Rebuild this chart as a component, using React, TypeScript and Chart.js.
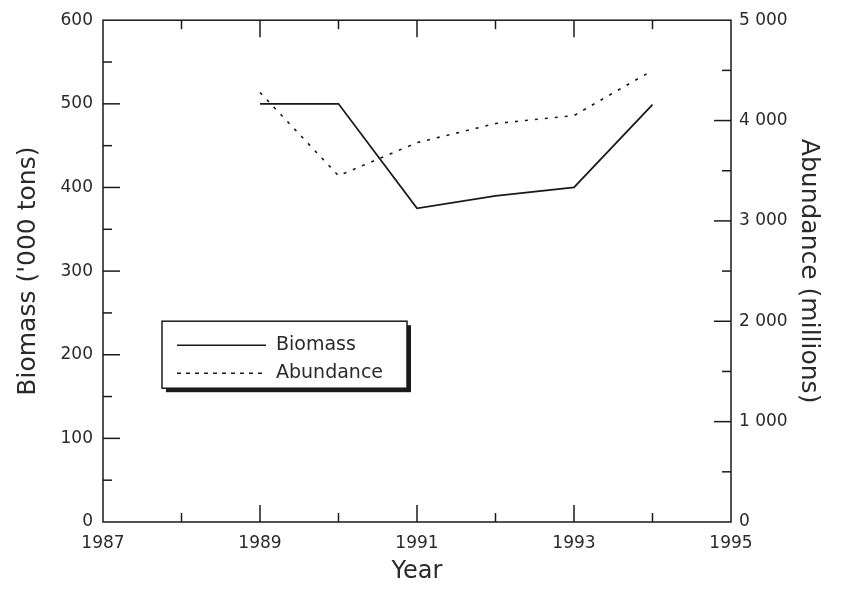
import React, { useEffect, useRef } from 'react';
import { Chart, registerables } from 'chart.js';

Chart.register(...registerables);

const years = [1989, 1990, 1991, 1992, 1993, 1994];
const biomass = [500, 500, 375, 390, 400, 499];
const abundance = [4280, 3450, 3780, 3970, 4050, 4500];
const xTickLabels = ['1987', '1989', '1991', '1993', '1995'];
const leftTickLabels = ['0', '100', '200', '300', '400', '500', '600'];
const rightTickLabels = ['0', '1 000', '2 000', '3 000', '4 000', '5 000'];
const seriesNames = ['Biomass', 'Abundance'];

const FONT = '"DejaVu Sans", sans-serif';
const INK = '#1a1a1a';
const TEXT = '#2a2a2a';
const DASH = [3, 7];

const framePlugin = {
  id: 'frameTicks',
  afterDraw(chart: any) {
    const { ctx, chartArea: a, scales } = chart;
    ctx.save();
    ctx.strokeStyle = INK;
    ctx.lineWidth = 1.5;
    ctx.setLineDash([]);
    const seg = (x1: number, y1: number, x2: number, y2: number) => {
      ctx.beginPath();
      ctx.moveTo(x1, y1);
      ctx.lineTo(x2, y2);
      ctx.stroke();
    };
    ctx.strokeRect(a.left, a.top, a.right - a.left, a.bottom - a.top);
    const major = 17;
    const minor = 9;
    const x = scales.x;
    for (let v = x.min + 1; v < x.max; v += 1) {
      const px = x.getPixelForValue(v);
      const len = (v - x.min) % 2 === 0 ? major : minor;
      seg(px, a.bottom, px, a.bottom - len);
      seg(px, a.top, px, a.top + len);
    }
    const y = scales.y;
    for (let v = y.min + 50; v < y.max; v += 50) {
      const py = y.getPixelForValue(v);
      const len = v % 100 === 0 ? major : minor;
      seg(a.left, py, a.left + len, py);
    }
    const y2 = scales.y2;
    for (let v = y2.min + 500; v < y2.max; v += 500) {
      const py = y2.getPixelForValue(v);
      const len = v % 1000 === 0 ? major : minor;
      seg(a.right, py, a.right - len, py);
    }

    // legend box with drop shadow
    const bx = a.left + 59;
    const by = a.top + 301;
    const bw = 245;
    const bh = 67;
    ctx.fillStyle = INK;
    ctx.fillRect(bx + 4, by + 4, bw, bh);
    ctx.fillStyle = '#fff';
    ctx.fillRect(bx, by, bw, bh);
    ctx.strokeRect(bx, by, bw, bh);

    ctx.font = `19px ${FONT}`;
    ctx.fillStyle = TEXT;
    ctx.textBaseline = 'middle';
    ctx.textAlign = 'left';
    seg(bx + 15, by + 24, bx + 104, by + 24);
    ctx.fillText(seriesNames[0], bx + 114, by + 24);
    ctx.setLineDash([4, 5]);
    seg(bx + 15, by + 52, bx + 104, by + 52);
    ctx.setLineDash([]);
    ctx.fillText(seriesNames[1], bx + 114, by + 52);
    ctx.restore();
  },
};

export default function App() {
  const ref = useRef<HTMLCanvasElement>(null);
  useEffect(() => {
    if (!ref.current) return;
    const chart = new Chart(ref.current, {
      type: 'line',
      data: {
        datasets: [
          {
            label: seriesNames[0],
            data: years.map((yr, i) => ({ x: yr, y: biomass[i] })),
            borderColor: INK,
            borderWidth: 1.8,
            pointRadius: 0,
            tension: 0,
            yAxisID: 'y',
          },
          {
            label: seriesNames[1],
            data: years.map((yr, i) => ({ x: yr, y: abundance[i] })),
            borderColor: INK,
            borderWidth: 1.6,
            borderDash: DASH,
            pointRadius: 0,
            tension: 0,
            yAxisID: 'y2',
          },
        ],
      },
      options: {
        animation: false,
        responsive: false,
        maintainAspectRatio: false,
        layout: { autoPadding: false, padding: { top: 17, left: 0, right: 0, bottom: 0 } },
        plugins: { legend: { display: false }, tooltip: { enabled: false } },
        scales: {
          x: {
            type: 'linear',
            position: 'bottom',
            min: 1987,
            max: 1995,
            grid: { display: false, drawTicks: false },
            border: { display: false },
            ticks: {
              stepSize: 2,
              padding: 11,
              color: TEXT,
              font: { family: FONT, size: 17 },
              maxRotation: 0,
              callback: (_v: any, i: number) => xTickLabels[i],
            },
            title: {
              display: true,
              text: 'Year',
              color: TEXT,
              font: { family: FONT, size: 24 },
              padding: { top: 0, bottom: 3 },
            },
            afterFit: (s: any) => {
              s.height = 67;
            },
          },
          y: {
            type: 'linear',
            position: 'left',
            min: 0,
            max: 600,
            grid: { display: false, drawTicks: false },
            border: { display: false },
            ticks: {
              stepSize: 100,
              padding: 10,
              color: TEXT,
              font: { family: FONT, size: 17 },
              callback: (_v: any, i: number) => leftTickLabels[i],
            },
            title: {
              display: true,
              text: "Biomass ('000 tons)",
              color: TEXT,
              font: { family: FONT, size: 25 },
              padding: { top: 13, bottom: 0 },
            },
            afterFit: (s: any) => {
              s.width = 103;
            },
          },
          y2: {
            type: 'linear',
            position: 'right',
            min: 0,
            max: 5000,
            grid: { display: false, drawTicks: false },
            border: { display: false },
            ticks: {
              stepSize: 1000,
              padding: 8,
              color: TEXT,
              font: { family: FONT, size: 17 },
              callback: (_v: any, i: number) => rightTickLabels[i],
            },
            title: {
              display: true,
              text: 'Abundance (millions)',
              color: TEXT,
              font: { family: FONT, size: 25 },
              padding: { top: 19, bottom: 0 },
            },
            afterFit: (s: any) => {
              s.width = 111;
            },
          },
        },
      },
      plugins: [framePlugin],
    } as any);
    return () => chart.destroy();
  }, []);
  return (
    <div style={{ position: 'fixed', left: 0, top: 0, width: 842, height: 589, background: '#fff' }}>
      <canvas ref={ref} width={842} height={589} />
    </div>
  );
}
